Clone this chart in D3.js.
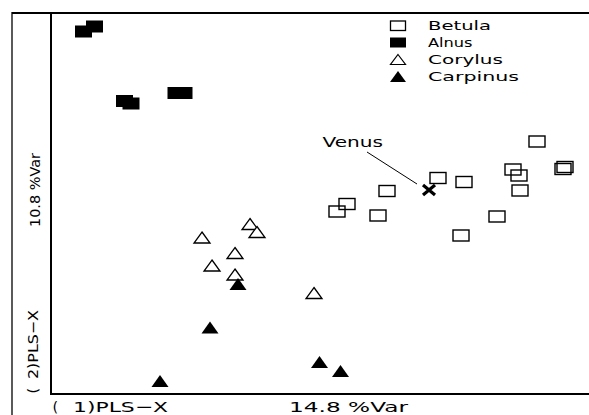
<!DOCTYPE html>
<html>
<head>
<meta charset="utf-8">
<script src="https://cdn.jsdelivr.net/npm/d3@7"></script>
<style>
  html, body { margin: 0; padding: 0; background: #fff; }
  svg { display: block; }
  text { font-family: "DejaVu Sans", sans-serif; fill: #000; }
</style>
</head>
<body>
<svg id="chart" width="589" height="415"></svg>
<script>
// ---- Data (PLS-X scores) ----
const categories = ["Betula", "Alnus", "Corylus", "Carpinus"];

const betulaX = [4.72, 4.24, 4.36, 5.28, 5.24, 4.38, 2.74, 3.26, 1.72, 0.92, 0.72, 1.54, 3.92, 3.20];
const betulaY = [1.05, 0.49, 0.37, 0.54, 0.50, 0.07, 0.32, 0.24, 0.06, -0.20, -0.35, -0.43, -0.45, -0.83];

const alnusX = [-4.35, -4.13, -3.53, -3.40, -2.50, -2.34];
const alnusY = [3.25, 3.35, 1.86, 1.81, 2.02, 2.02];

const corylusX = [-1.98, -1.02, -0.88, -1.32, -1.78, -1.32, 0.26];
const corylusY = [-0.87, -0.60, -0.76, -1.18, -1.43, -1.61, -1.98];

const carpinusX = [-1.26, -1.82, -2.82, 0.37, 0.79];
const carpinusY = [-1.80, -2.67, -3.74, -3.36, -3.54];

const venusX = [2.56];
const venusY = [0.08];
const venusLabel = ["Venus"];

const xAxisLabels = ["(", "1)PLS\u2212X", "14.8 %Var"];
const yAxisLabels = ["(", "2)PLS\u2212X", "10.8 %Var"];

// ---- Layout ----
const svg = d3.select("#chart");
const x = d3.scaleLinear().domain([-5, 5.74]).range([51, 588]);
const y = d3.scaleLinear().domain([-4, 3.62]).range([394, 13]);

// frame
svg.append("line").attr("x1", 12).attr("x2", 589).attr("y1", 13).attr("y2", 13)
  .attr("stroke", "#000").attr("stroke-width", 2);
svg.append("line").attr("x1", 12).attr("x2", 12).attr("y1", 12).attr("y2", 415)
  .attr("stroke", "#000").attr("stroke-width", 1.3);
svg.append("line").attr("x1", x.range()[0]).attr("x2", x.range()[0]).attr("y1", 12).attr("y2", 395)
  .attr("stroke", "#000").attr("stroke-width", 2);
svg.append("line").attr("x1", 50).attr("x2", 589).attr("y1", y.range()[0]).attr("y2", y.range()[0])
  .attr("stroke", "#000").attr("stroke-width", 2);

function zip(xs, ys) { return xs.map((v, i) => ({x: v, y: ys[i]})); }

const g = svg.append("g");

// Betula: open rectangles
g.selectAll("rect.betula").data(zip(betulaX, betulaY)).join("rect")
  .attr("class", "betula")
  .attr("x", d => x(d.x) - 8).attr("y", d => y(d.y) - 5.5)
  .attr("width", 16).attr("height", 11)
  .attr("fill", "none").attr("stroke", "#000").attr("stroke-width", 1.4);

// Alnus: filled rectangles
g.selectAll("rect.alnus").data(zip(alnusX, alnusY)).join("rect")
  .attr("class", "alnus")
  .attr("x", d => x(d.x) - 8.5).attr("y", d => y(d.y) - 6)
  .attr("width", 17).attr("height", 12)
  .attr("fill", "#000");

const triOpen = "M0,-5.5L8,5.5L-8,5.5Z";
const triFill = "M0,-6L8.5,6L-8.5,6Z";

g.selectAll("path.corylus").data(zip(corylusX, corylusY)).join("path")
  .attr("class", "corylus")
  .attr("transform", d => `translate(${x(d.x)},${y(d.y)})`)
  .attr("d", triOpen)
  .attr("fill", "#fff").attr("stroke", "#000").attr("stroke-width", 1.3)
  .attr("stroke-linejoin", "miter");

g.selectAll("path.carpinus").data(zip(carpinusX, carpinusY)).join("path")
  .attr("class", "carpinus")
  .attr("transform", d => `translate(${x(d.x)},${y(d.y)})`)
  .attr("d", triFill)
  .attr("fill", "#000");

// Venus
const venus = zip(venusX, venusY).map((d, i) => ({...d, label: venusLabel[i]}));
const vg = g.selectAll("g.venus").data(venus).join("g")
  .attr("class", "venus")
  .attr("transform", d => `translate(${x(d.x)},${y(d.y)})`);
vg.append("path").attr("d", "M-6,-5L6,5M-6,5L6,-5")
  .attr("stroke", "#000").attr("stroke-width", 3.2).attr("fill", "none");
vg.append("line").attr("x1", -12).attr("y1", -6).attr("x2", -62).attr("y2", -38)
  .attr("stroke", "#000").attr("stroke-width", 1);
vg.append("text").attr("x", -106.5).attr("y", -43.5)
  .attr("font-size", 13.5)
  .attr("textLength", 60.5).attr("lengthAdjust", "spacingAndGlyphs")
  .text(d => d.label);

// Legend
const legendY = [25.5, 42.5, 59.5, 76.5];
const legendW = [63, 44.5, 75, 91];
const lg = svg.append("g");
categories.forEach((c, i) => {
  const cy = legendY[i];
  if (i === 0) {
    lg.append("rect").attr("x", 390.5).attr("y", cy - 4.5).attr("width", 15).attr("height", 9.5)
      .attr("fill", "none").attr("stroke", "#000").attr("stroke-width", 1.3);
  } else if (i === 1) {
    lg.append("rect").attr("x", 390).attr("y", cy - 5).attr("width", 16).attr("height", 10)
      .attr("fill", "#000");
  } else if (i === 2) {
    lg.append("path").attr("transform", `translate(398,${cy})`).attr("d", "M0,-5L7.5,5L-7.5,5Z")
      .attr("fill", "none").attr("stroke", "#000").attr("stroke-width", 1.2);
  } else {
    lg.append("path").attr("transform", `translate(398,${cy})`).attr("d", "M0,-5.5L8,5.5L-8,5.5Z")
      .attr("fill", "#000");
  }
  lg.append("text").attr("x", 428).attr("y", cy + 4.6)
    .attr("font-size", 13)
    .attr("textLength", legendW[i]).attr("lengthAdjust", "spacingAndGlyphs")
    .text(c);
});

// X axis title
svg.append("text").attr("x", 52.5).attr("y", 412).attr("font-size", 14.5).text(xAxisLabels[0]);
svg.append("text").attr("x", 73).attr("y", 412).attr("font-size", 14.5)
  .attr("textLength", 95).attr("lengthAdjust", "spacingAndGlyphs").text(xAxisLabels[1]);
svg.append("text").attr("x", 289).attr("y", 412).attr("font-size", 14.5)
  .attr("textLength", 119).attr("lengthAdjust", "spacingAndGlyphs").text(xAxisLabels[2]);

// Y axis title (rotated)
function vtext(str, bx, by, len) {
  const t = svg.append("text")
    .attr("transform", `translate(${bx},${by}) rotate(-90)`)
    .attr("font-size", 14.5)
    .text(str);
  if (len) t.attr("textLength", len).attr("lengthAdjust", "spacingAndGlyphs");
}
vtext(yAxisLabels[0], 38, 393.5, null);
vtext(yAxisLabels[1], 38, 379, 69);
vtext(yAxisLabels[2], 40, 227, 74);
</script>
</body>
</html>
